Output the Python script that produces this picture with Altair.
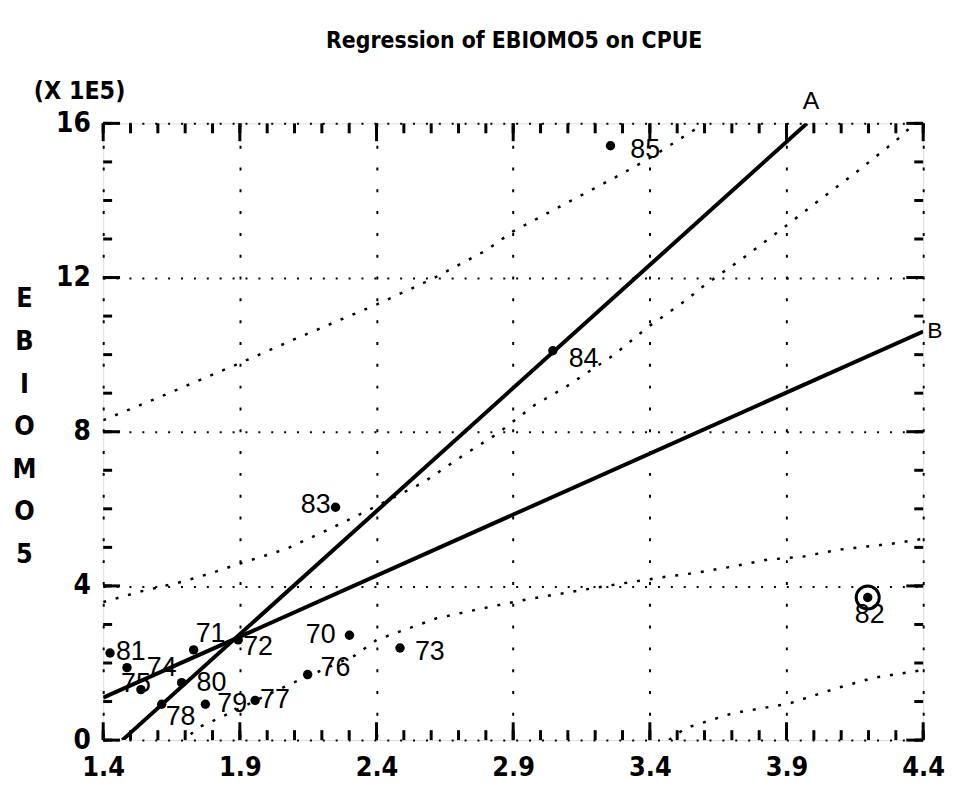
import altair as alt
import pandas as pd

# ---- data ----
years = ["70", "71", "72", "73", "74", "75", "76", "77", "78", "79", "80", "81", "82", "83", "84", "85"]
cpue = [2.301, 1.731, 1.894, 2.486, 1.487, 1.538, 2.148, 1.956, 1.614, 1.774, 1.687, 1.425, 4.197, 2.25, 3.045, 3.256]
ebiomo5 = [2.72, 2.34, 2.60, 2.39, 1.88, 1.31, 1.70, 1.03, 0.93, 0.93, 1.49, 2.26, 3.70, 6.04, 10.10, 15.42]

lineA_x = [1.47, 3.975]
lineA_y = [0.0, 16.0]
lineB_x = [1.4, 4.4]
lineB_y = [1.1, 10.6]

upper_pred_x = [1.40, 1.60, 1.90, 2.10, 2.40, 2.60, 2.80, 2.90, 3.10, 3.30, 3.40, 3.50, 3.60]
upper_pred_y = [8.30, 8.88, 9.78, 10.40, 11.30, 11.95, 12.70, 13.20, 13.95, 14.70, 15.10, 15.55, 16.00]

upper_conf_x = [1.40, 1.54, 1.69, 1.79, 1.90, 2.07, 2.23, 2.40, 2.57, 2.72, 2.84, 2.98, 3.09, 3.27, 3.39, 3.53, 3.60, 3.74, 3.90, 4.00, 4.14, 4.30, 4.37]
upper_conf_y = [3.58, 3.86, 4.11, 4.32, 4.58, 4.96, 5.48, 6.07, 6.68, 7.40, 7.94, 8.70, 9.15, 10.00, 10.70, 11.40, 11.80, 12.50, 13.35, 13.90, 14.65, 15.55, 16.00]

lower_conf_x = [1.72, 1.75, 1.83, 2.08, 2.32, 2.40, 2.62, 2.79, 2.95, 3.10, 3.25, 3.44, 3.57, 3.70, 3.83, 3.96, 4.09, 4.28, 4.40]
lower_conf_y = [0.15, 0.33, 0.59, 1.44, 2.19, 2.60, 3.16, 3.42, 3.65, 3.83, 4.01, 4.22, 4.34, 4.50, 4.68, 4.76, 4.94, 5.09, 5.22]

lower_pred_x = [3.47, 3.53, 3.70, 3.91, 4.09, 4.22, 4.40]
lower_pred_y = [0.00, 0.31, 0.69, 0.95, 1.36, 1.62, 1.82]

x_major = [1.4, 1.9, 2.4, 2.9, 3.4, 3.9, 4.4]
y_major = [0, 4, 8, 12, 16]
x_minor = [round(1.4 + 0.1 * i, 1) for i in range(31)]
y_minor = list(range(17))

title_text = "Regression of EBIOMO5 on CPUE"
y_title = ["E", "B", "I", "O", "M", "O", "5"]
scale_note = "(X 1E5)"

# ---- label placement (pixels, left-aligned text) ----
label_offsets = {
    "70": (-44, 0), "71": (2, -16), "72": (5, 7), "73": (15, 4),
    "74": (20, 0), "75": (-20, -6), "76": (13, -7), "77": (5, 0),
    "78": (4, 13), "79": (12, 0), "80": (15, 0), "81": (6, -1),
    "82": (-13, 18), "83": (-35, -2), "84": (16, 8), "85": (20, 4),
}

W, H = 827, 622
NARROW = "DejaVu Sans Condensed, Liberation Sans, sans-serif"
PLAIN = "Liberation Sans, Arial, sans-serif"

xs = alt.Scale(domain=[1.4, 4.4], nice=False, zero=False)
ys = alt.Scale(domain=[0, 16], nice=False, zero=False)

xaxis = alt.Axis(values=x_major, format=".1f", title="", grid=True, gridDash=[3, 19],
                 gridWidth=2, gridColor="black", gridOpacity=1, ticks=False, domain=False,
                 labelFont=NARROW, labelFontSize=27, labelFontWeight="bold", labelColor="black",
                 labelPadding=15, labelFlush=False, labelOverlap=False)
yaxis = alt.Axis(values=y_major, format="d", title=y_title, titleAngle=0, titleX=-80, titleY=164,
                 titleAlign="center", titleBaseline="top", titleFont=NARROW, titleFontSize=27,
                 titleFontWeight="bold", titleLineHeight=43, titleColor="black",
                 grid=True, gridDash=[2, 11], gridWidth=2, gridColor="black", gridOpacity=1,
                 ticks=False, domain=False, labelFont=NARROW, labelFontSize=28,
                 labelFontWeight="bold", labelColor="black", labelPadding=13,
                 labelFlush=False, labelOverlap=False)

X = alt.X("x:Q", scale=xs, axis=xaxis)
Y = alt.Y("y:Q", scale=ys, axis=yaxis)

pts = pd.DataFrame({"year": years, "x": cpue, "y": ebiomo5})

curves = pd.concat([
    pd.DataFrame({"x": upper_pred_x, "y": upper_pred_y, "c": "upper_pred"}),
    pd.DataFrame({"x": upper_conf_x, "y": upper_conf_y, "c": "upper_conf"}),
    pd.DataFrame({"x": lower_conf_x, "y": lower_conf_y, "c": "lower_conf"}),
    pd.DataFrame({"x": lower_pred_x, "y": lower_pred_y, "c": "lower_pred"}),
])
fits = pd.concat([
    pd.DataFrame({"x": lineA_x, "y": lineA_y, "c": "A"}),
    pd.DataFrame({"x": lineB_x, "y": lineB_y, "c": "B"}),
])

layers = []

# dotted confidence / prediction curves
layers.append(alt.Chart(curves).mark_line(color="black", strokeWidth=2.5, strokeDash=[3, 10], clip=True)
              .encode(x=X, y=Y, detail="c:N"))
# regression lines
layers.append(alt.Chart(fits).mark_line(color="black", strokeWidth=4, clip=True)
              .encode(x=X, y=Y, detail="c:N"))

# inward ticks
xmin_df = pd.DataFrame({"x": x_minor})
xmaj_df = pd.DataFrame({"x": x_major})
ymin_df = pd.DataFrame({"y": y_minor})
ymaj_df = pd.DataFrame({"y": y_major})
tick = dict(color="black", strokeWidth=3)
layers += [
    alt.Chart(xmin_df).mark_rule(**tick).encode(x=X, y=alt.value(H), y2=alt.value(H - 10)),
    alt.Chart(xmaj_df).mark_rule(**tick).encode(x=X, y=alt.value(H), y2=alt.value(H - 18)),
    alt.Chart(xmin_df).mark_rule(**tick).encode(x=X, y=alt.value(0), y2=alt.value(10)),
    alt.Chart(xmaj_df).mark_rule(**tick).encode(x=X, y=alt.value(0), y2=alt.value(18)),
    alt.Chart(ymin_df).mark_rule(**tick).encode(y=Y, x=alt.value(0), x2=alt.value(9)),
    alt.Chart(ymaj_df).mark_rule(**tick).encode(y=Y, x=alt.value(0), x2=alt.value(17)),
    alt.Chart(ymin_df).mark_rule(**tick).encode(y=Y, x=alt.value(W), x2=alt.value(W - 9)),
    alt.Chart(ymaj_df).mark_rule(**tick).encode(y=Y, x=alt.value(W), x2=alt.value(W - 17)),
]

# points
layers.append(alt.Chart(pts).mark_circle(color="black", size=90, opacity=1).encode(x=X, y=Y))
layers.append(alt.Chart(pts).transform_filter(alt.datum.year == "82")
              .mark_point(shape="circle", filled=False, color="black", size=540, strokeWidth=3, opacity=1)
              .encode(x=X, y=Y))

# point labels
for yr, (dx, dy) in label_offsets.items():
    layers.append(alt.Chart(pts).transform_filter(alt.datum.year == yr)
                  .mark_text(align="left", baseline="middle", dx=dx, dy=dy, font=PLAIN,
                             fontSize=27, color="black")
                  .encode(x=X, y=Y, text="year:N"))

# A / B labels at line ends
endA = pd.DataFrame({"x": [lineA_x[-1]], "y": [lineA_y[-1]], "t": ["A"]})
endB = pd.DataFrame({"x": [lineB_x[-1]], "y": [lineB_y[-1]], "t": ["B"]})
layers.append(alt.Chart(endA).mark_text(align="center", baseline="middle", dx=4, dy=-22, font=PLAIN,
                                        fontSize=25, color="black").encode(x=X, y=Y, text="t:N"))
layers.append(alt.Chart(endB).mark_text(align="left", baseline="middle", dx=4, dy=0, font=PLAIN,
                                        fontSize=23, color="black").encode(x=X, y=Y, text="t:N"))

# scale note above the y axis, and the chart title
note = pd.DataFrame({"t": [scale_note]})
layers.append(alt.Chart(note).mark_text(align="left", baseline="middle", font=NARROW, fontSize=25,
                                        fontWeight="bold", color="black")
              .encode(x=alt.value(-70), y=alt.value(-33), text="t:N"))
ttl = pd.DataFrame({"t": [title_text]})
layers.append(alt.Chart(ttl).mark_text(align="center", baseline="middle", font=NARROW, fontSize=23,
                                       fontWeight="bold", color="black")
              .encode(x=alt.value(W / 2 + 1), y=alt.value(-83), text="t:N"))

chart = alt.layer(*layers).properties(
    width=W, height=H,
    autosize=alt.AutoSizeParams(type="none"),
    padding={"left": 96, "top": 113, "right": 22, "bottom": 50},
).configure_view(stroke="black", strokeWidth=4).configure(background="white")

chart.save("out.html", embed_options={"renderer": "svg", "actions": False})
